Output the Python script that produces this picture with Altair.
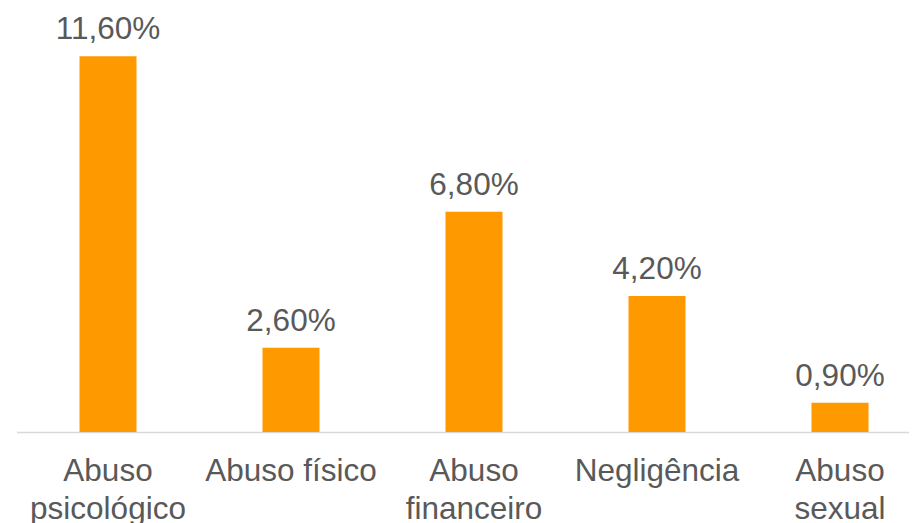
import altair as alt
import pandas as pd

categories = ["Abuso|psicológico", "Abuso físico", "Abuso|financeiro", "Negligência", "Abuso|sexual"]
values = [11.6, 2.6, 6.8, 4.2, 0.9]

df = pd.DataFrame({
    "cat": categories,
    "val": values,
    "lbl": [f"{v:.2f}%".replace(".", ",") for v in values],
})

FONT = "Liberation Sans"
GRAY = "#595959"

x = alt.X(
    "cat:N",
    sort=None,
    scale=alt.Scale(range=[0, 915], paddingInner=0.0, paddingOuter=0.0),
    axis=alt.Axis(
        title=None,
        labelAngle=0,
        ticks=False,
        domainColor="#d9d9d9",
        domainWidth=1.5,
        labelFont=FONT,
        labelFontSize=31.5,
        labelColor=GRAY,
        labelBaseline="alphabetic",
        labelPadding=48,
        labelLineHeight=38,
        labelExpr="split(datum.label, '|')",
        labelLimit=0,
        labelOverlap=False,
    ),
)
y = alt.Y("val:Q", scale=alt.Scale(domain=[0, 13], nice=False), axis=None)

bars = alt.Chart(df).mark_bar(color="#FF9900", size=57).encode(x=x, y=y)
texts = alt.Chart(df).mark_text(
    font=FONT, fontSize=31.5, color=GRAY, baseline="alphabetic", dy=-17
).encode(x=x, y=y, text="lbl:N")

chart = (
    alt.layer(bars, texts)
    .properties(
        width=892,
        height=421,
        autosize=alt.AutoSizeParams(type="none"),
        padding={"left": 8.5, "top": 3, "right": 0, "bottom": 100},
        background="white",
    )
    .configure_view(stroke="transparent", strokeWidth=0)
)

chart.save("out.html", embed_options={"renderer": "svg", "actions": False})
